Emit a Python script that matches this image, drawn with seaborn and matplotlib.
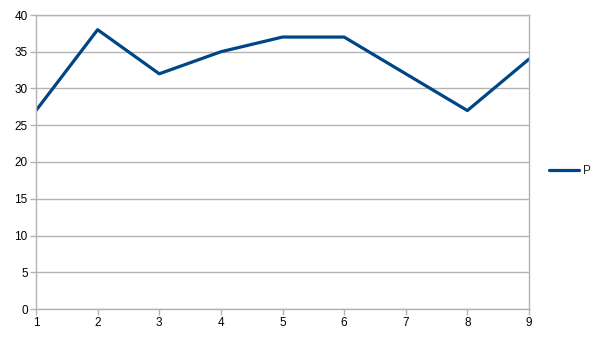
import matplotlib
matplotlib.use("Agg")
import matplotlib.pyplot as plt
import seaborn as sns
import pandas as pd

x_values = [1, 2, 3, 4, 5, 6, 7, 8, 9]
p_values = [27, 38, 32, 35, 37, 37, 32, 27, 34]
series_name = "P"

df = pd.DataFrame({"x": x_values, "y": p_values, "series": series_name})

sns.set_theme(style="white")
plt.rcParams['font.family'] = ['Liberation Sans', 'DejaVu Sans']

fig = plt.figure(figsize=(6.06, 3.41), dpi=100)
ax = fig.add_axes([36/606, 1-309/341, (529-36)/606, (309-15)/341])

sns.lineplot(data=df, x="x", y="y", hue="series", palette=["#004586"],
             linewidth=2.3, ax=ax, legend=True)

ax.set_xlim(1, 9)
ax.set_ylim(0, 40)
ax.set_xticks(x_values)
ax.set_yticks(range(0, 41, 5))
ax.yaxis.grid(True, color="#b3b3b3", linewidth=1)
ax.xaxis.grid(False)
ax.set_axisbelow(True)
for s in ax.spines.values():
    s.set_color("#b3b3b3")
    s.set_linewidth(1)
ax.tick_params(axis="both", which="both", direction="out", length=4, width=1,
               color="#b3b3b3", labelsize=8.5, labelcolor="#000000", pad=2,
               bottom=True, left=True)
ax.set_xlabel("")
ax.set_ylabel("")

handles, labels = ax.get_legend_handles_labels()
ax.legend(handles, labels, loc="center left", bbox_to_anchor=(549/606, 170/341),
          bbox_transform=fig.transFigure, frameon=False, fontsize=8.5,
          handlelength=2.55, handletextpad=0.35, borderaxespad=0, borderpad=0)

fig.savefig("out.png", dpi=100)
